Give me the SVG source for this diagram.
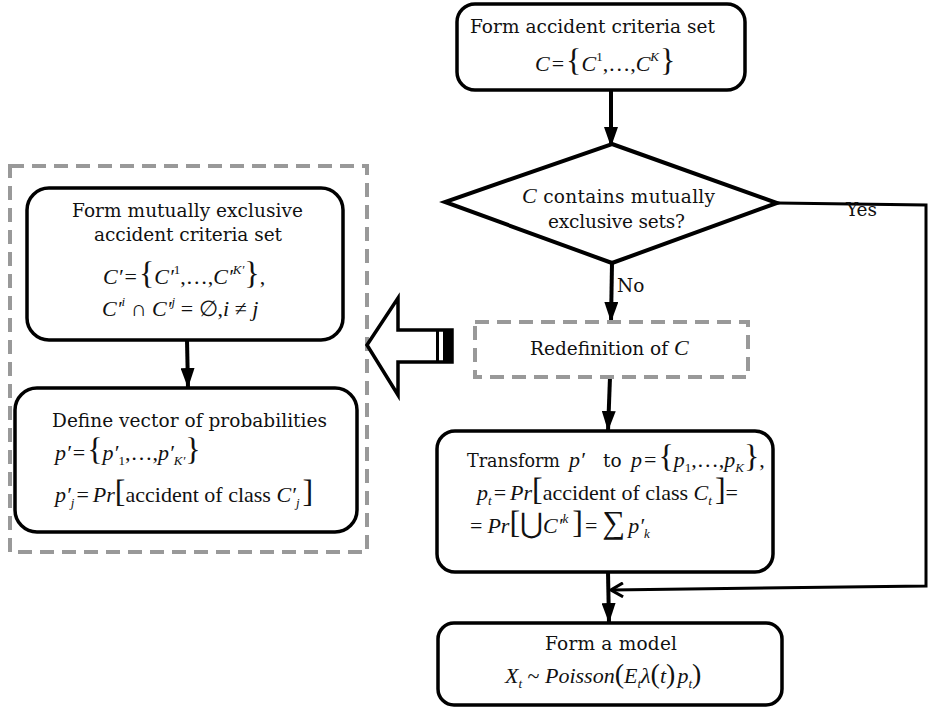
<svg xmlns="http://www.w3.org/2000/svg" width="929" height="707" viewBox="0 0 929 707">
<style>
.box{fill:#fff;stroke:#000;stroke-width:3.5}
.dash{fill:none;stroke:#999;stroke-width:4;stroke-dasharray:14 8}
.ln{fill:none;stroke:#000;stroke-width:4}
.t{font-family:"DejaVu Serif","Liberation Serif",serif;font-size:18.5px;fill:#111}
.m{font-family:"Liberation Serif","DejaVu Serif",serif;font-size:22px;fill:#111}
.i{font-style:italic}
.s{font-size:13px}
.b{font-size:32px;font-style:normal}
.tt{font-family:"DejaVu Serif","Liberation Serif",serif;font-size:18.5px;font-style:normal}
.mi{font-family:"Liberation Serif","DejaVu Serif",serif;font-size:22px;font-style:italic}
</style>
<defs>
<marker id="ah" viewBox="0 0 20 14" refX="20" refY="7" markerWidth="20" markerHeight="14" markerUnits="userSpaceOnUse" orient="auto">
<path d="M0,0 L20,7 L0,14 Z" fill="#000"/>
</marker>
<marker id="oh" viewBox="0 0 14 16" refX="13" refY="8" markerWidth="14" markerHeight="16" markerUnits="userSpaceOnUse" orient="auto">
<path d="M1,1 L13,8 L1,15" fill="none" stroke="#000" stroke-width="3"/>
</marker>
</defs>
<rect x="0" y="0" width="929" height="707" fill="#fff"/>

<g id="connectors">
<line class="ln" x1="611" y1="90" x2="611" y2="147" marker-end="url(#ah)"/>
<line class="ln" x1="612" y1="263" x2="611" y2="322" marker-end="url(#ah)"/>
<line class="ln" x1="610" y1="377" x2="608" y2="431" marker-end="url(#ah)"/>
<line class="ln" x1="608" y1="572" x2="609" y2="623" marker-end="url(#ah)"/>
<line class="ln" x1="187" y1="340" x2="188" y2="388" marker-end="url(#ah)"/>
<polyline fill="none" stroke="#000" stroke-width="3" points="777,203 926,205 926,586 611,590" marker-end="url(#oh)"/>
<text class="t" x="617" y="292">No</text>
<text class="t" x="846" y="216">Yes</text>
</g>

<g id="container">
<rect class="dash" x="10" y="166" width="357" height="386"/>
</g>

<g id="big-arrow">
<polygon points="367,345 398,298 398,330 452,330 452,362 398,362 398,395" fill="#fff" stroke="#000" stroke-width="3.5" stroke-linejoin="miter"/>
<rect x="436" y="330" width="3" height="32" fill="#000"/>
<rect x="443" y="330" width="9" height="32" fill="#000"/>
</g>

<g id="n-form-criteria">
<rect class="box" x="457" y="4" width="288" height="86" rx="18"/>
<text class="t" x="470" y="33" textLength="245">Form accident criteria set</text>
<text class="m" x="535" y="71"><tspan class="i">C</tspan><tspan dx="2">=</tspan><tspan class="b" dx="2">{</tspan><tspan class="i">C</tspan><tspan class="s" dy="-10">1</tspan><tspan dy="10">,…,</tspan><tspan class="i">C</tspan><tspan class="s i" dy="-10">K</tspan><tspan class="b" dy="10" dx="1">}</tspan></text>
</g>

<g id="n-decision">
<polygon points="612,144 777,203 612,263 445,202" fill="#fff" stroke="#000" stroke-width="4" stroke-linejoin="miter"/>
<text class="t" x="522" y="203" textLength="193"><tspan class="mi">C</tspan>  contains mutually</text>
<text class="t" x="548" y="228" textLength="137">exclusive sets?</text>
</g>

<g id="n-redefinition">
<rect class="dash" x="475" y="322" width="273" height="55"/>
<text class="t" x="530" y="355">Redefinition of <tspan class="mi">C</tspan></text>
</g>

<g id="n-transform">
<rect class="box" x="437" y="431" width="336" height="141" rx="18"/>
<text class="t" x="467" y="467" textLength="93" lengthAdjust="spacingAndGlyphs">Transform</text>
<text class="m" x="569" y="467"><tspan class="i">p′</tspan><tspan class="tt" x="603">to</tspan><tspan class="i" x="631">p</tspan><tspan dx="2">=</tspan><tspan class="b" dx="2">{</tspan><tspan class="i">p</tspan><tspan class="s" dy="5">1</tspan><tspan dy="-5">,…,</tspan><tspan class="i">p</tspan><tspan class="s i" dy="5">K</tspan><tspan class="b" dy="-5">}</tspan>,</text>
<text class="m" x="477" y="500"><tspan class="i">p</tspan><tspan class="s i" dy="5">t</tspan><tspan dy="-5" dx="2">=</tspan><tspan class="i" dx="4">Pr</tspan><tspan class="b">[</tspan>accident of class <tspan class="i">C</tspan><tspan class="s i" dy="5">t</tspan><tspan class="b" dy="-5" dx="3">]</tspan>=</text>
<text class="m" x="470" y="533">=<tspan class="i" dx="5">Pr</tspan><tspan class="b">[</tspan><tspan style="font-size:28px;font-family:'DejaVu Sans',sans-serif">⋃</tspan><tspan class="i">C′</tspan><tspan class="s i" dy="-10">k</tspan><tspan class="b" dy="10" dx="4">]</tspan><tspan dx="2">=</tspan><tspan style="font-size:32px" dx="5">∑</tspan><tspan class="i" dx="3">p′</tspan><tspan class="s i" dy="5">k</tspan></text>
</g>

<g id="n-model">
<rect class="box" x="438" y="623" width="344" height="82" rx="16"/>
<text class="t" x="545" y="650" textLength="132">Form a model</text>
<text class="m" x="505" y="683"><tspan class="i">X</tspan><tspan class="s i" dy="5">t</tspan><tspan dy="-5"> ~ </tspan><tspan class="i">Poisson</tspan><tspan style="font-size:28px">(</tspan><tspan class="i">E</tspan><tspan class="s i" dy="5">t</tspan><tspan dy="-5" class="i">λ</tspan><tspan style="font-size:28px">(</tspan><tspan class="i">t</tspan><tspan style="font-size:28px">)</tspan><tspan class="i" dx="2">p</tspan><tspan class="s i" dy="5">t</tspan><tspan style="font-size:28px" dy="-5">)</tspan></text>
</g>

<g id="n-mutually-exclusive">
<rect class="box" x="27" y="188" width="316" height="152" rx="22"/>
<text class="t" x="72" y="217" textLength="231">Form mutually exclusive</text>
<text class="t" x="94" y="241" textLength="188">accident criteria set</text>
<text class="m" x="103" y="284"><tspan class="i">C′</tspan><tspan dx="2">=</tspan><tspan class="b" dx="2">{</tspan><tspan class="i">C′</tspan><tspan class="s" dy="-10">1</tspan><tspan dy="10">,…,</tspan><tspan class="i">C′</tspan><tspan class="s i" dy="-10">K′</tspan><tspan class="b" dy="10">}</tspan>,</text>
<text class="m" x="102" y="316"><tspan class="i">C′</tspan><tspan class="s i" dy="-10">i</tspan><tspan dy="10"> ∩ </tspan><tspan class="i">C′</tspan><tspan class="s i" dy="-10">j</tspan><tspan dy="10"> = ∅,</tspan><tspan class="i">i</tspan> ≠ <tspan class="i">j</tspan></text>
</g>

<g id="n-define-vector">
<rect class="box" x="15" y="388" width="342" height="144" rx="22"/>
<text class="t" x="52" y="427" textLength="275">Define vector of probabilities</text>
<text class="m" x="55" y="460"><tspan class="i">p′</tspan><tspan dx="2">=</tspan><tspan class="b" dx="2">{</tspan><tspan class="i">p′</tspan><tspan class="s" dy="5">1</tspan><tspan dy="-5">,…,</tspan><tspan class="i">p′</tspan><tspan class="s i" dy="5">K′</tspan><tspan class="b" dy="-5">}</tspan></text>
<text class="m" x="55" y="502"><tspan class="i">p′</tspan><tspan class="s i" dy="5">j</tspan><tspan dy="-5" dx="2">=</tspan><tspan class="i" dx="4">Pr</tspan><tspan class="b">[</tspan>accident of class <tspan class="i">C′</tspan><tspan class="s i" dy="5">j</tspan><tspan class="b" dy="-5" dx="3">]</tspan></text>
</g>
</svg>
